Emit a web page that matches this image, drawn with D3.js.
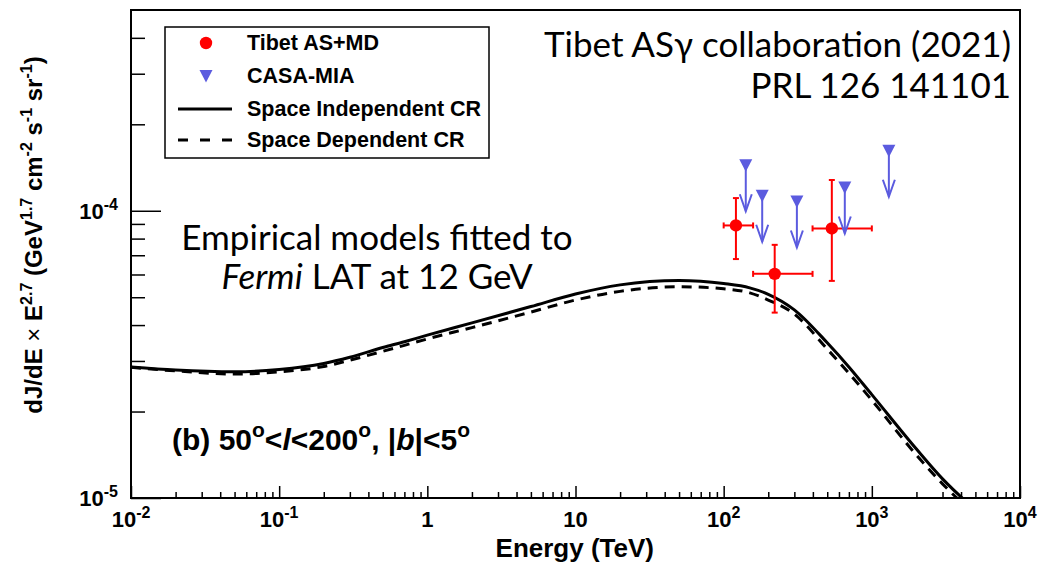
<!DOCTYPE html>
<html><head><meta charset="utf-8">
<script src="https://cdn.jsdelivr.net/npm/d3@7"></script>
<style>body{margin:0;background:#fff}</style>
</head><body>
<svg id="chart" width="1039" height="566"></svg>
<script>
// Model curves: E^2.7-weighted diffuse gamma-ray flux vs energy (TeV)
const energy = [0.01, 0.02, 0.05, 0.1, 0.2, 0.3, 0.5, 0.7, 1, 2, 5, 10, 20, 50, 100, 150, 200, 300, 500, 700, 1000, 2000, 3000, 4000, 5000];
const spaceIndependent = [2.86e-5, 2.79e-5, 2.75e-5, 2.80e-5, 2.94e-5, 3.09e-5, 3.34e-5, 3.50e-5, 3.69e-5, 4.07e-5, 4.64e-5, 5.13e-5, 5.52e-5, 5.72e-5, 5.58e-5, 5.39e-5, 5.12e-5, 4.52e-5, 3.47e-5, 2.86e-5, 2.29e-5, 1.48e-5, 1.166e-5, 1.01e-5, 0.92e-5];
const spaceDependent = [2.85e-5, 2.77e-5, 2.70e-5, 2.75e-5, 2.87e-5, 3.02e-5, 3.24e-5, 3.40e-5, 3.58e-5, 3.92e-5, 4.44e-5, 4.89e-5, 5.24e-5, 5.44e-5, 5.35e-5, 5.18e-5, 4.89e-5, 4.37e-5, 3.30e-5, 2.72e-5, 2.19e-5, 1.41e-5, 1.12e-5, 0.97e-5, 0.88e-5];

// Tibet AS+MD measurements
const tibetE = [121, 221, 537];
const tibetELo = [100, 158, 398];
const tibetEHi = [158, 398, 1000];
const tibetFlux = [8.89e-5, 6.03e-5, 8.68e-5];
const tibetFluxLo = [6.79e-5, 4.42e-5, 5.70e-5];
const tibetFluxHi = [1.107e-4, 7.61e-5, 1.28e-4];

// CASA-MIA upper limits
const casaE = [141, 182, 312, 657, 1303];
const casaLimit = [1.44e-4, 1.128e-4, 1.077e-4, 1.205e-4, 1.618e-4];

// Tick labels: [base, exponent]
const xTickValues = [1e-2, 1e-1, 1, 10, 100, 1000, 10000];
const xTickLabels = [["10", "-2"], ["10", "-1"], ["1", ""], ["10", ""], ["10", "2"], ["10", "3"], ["10", "4"]];
const yTickValues = [1e-5, 1e-4];
const yTickLabels = [["10", "-5"], ["10", "-4"]];

const legendLabels = ["Tibet AS+MD", "CASA-MIA", "Space Independent CR", "Space Dependent CR"];

const RED = "#ff0000", BLUE = "#5b5bdf";
const BOLD = "'Liberation Sans', Arial, Helvetica, sans-serif";
const HUMAN = "Lato, 'Open Sans', sans-serif";

const svg = d3.select("#chart");
const x = d3.scaleLog().domain([1e-2, 1e4]).range([131, 1020]);
const y = d3.scaleLog().domain([1e-5, 5e-4]).range([498, 10]);

svg.append("defs").append("clipPath").attr("id", "plotClip")
  .append("rect").attr("x", 131).attr("y", 10).attr("width", 889).attr("height", 488);

// minor tick positions
const xMinor = [];
for (let d = 1e-2; d < 1e4; d *= 10) for (let k = 2; k <= 9; k++) xMinor.push(k * d);
const yMinor = [];
for (let d = 1e-5; d < 5e-4; d *= 10) for (let k = 2; k <= 9; k++) if (k * d < 5e-4) yMinor.push(k * d);

// axes (ticks pointing inward)
const gx = svg.append("g").attr("transform", "translate(0,498)");
gx.call(d3.axisBottom(x).tickValues(xMinor).tickSize(-6).tickFormat(""));
gx.append("g").call(d3.axisBottom(x).tickValues(xTickValues).tickSize(-12).tickFormat(""));
const gy = svg.append("g").attr("transform", "translate(131,0)");
gy.call(d3.axisLeft(y).tickValues(yMinor).tickSize(-14).tickFormat(""));
gy.append("g").call(d3.axisLeft(y).tickValues(yTickValues).tickSize(-30).tickFormat(""));
svg.selectAll(".domain").remove();
svg.selectAll(".tick line").attr("stroke", "#000").attr("stroke-width", 1.5);

// frame
svg.append("rect").attr("x", 131).attr("y", 10).attr("width", 889).attr("height", 488)
  .attr("fill", "none").attr("stroke", "#000").attr("stroke-width", 2);

function supText(sel, base, exp, supSize, rise) {
  sel.append("tspan").text(base);
  if (exp) sel.append("tspan").attr("dy", -rise).attr("font-size", supSize).text(exp);
}

// x tick labels
xTickValues.forEach((v, i) => {
  const t = svg.append("text").attr("x", x(v)).attr("y", 527)
    .attr("text-anchor", "middle").attr("font-family", BOLD).attr("font-weight", "bold")
    .attr("font-size", 22);
  supText(t, xTickLabels[i][0], xTickLabels[i][1], 16, 9);
});
// y tick labels
yTickValues.forEach((v, i) => {
  const t = svg.append("text").attr("x", 118).attr("y", y(v) + 8)
    .attr("text-anchor", "end").attr("font-family", BOLD).attr("font-weight", "bold")
    .attr("font-size", 22);
  supText(t, yTickLabels[i][0], yTickLabels[i][1], 16, 9);
});

// axis titles
svg.append("text").attr("x", 654).attr("y", 557).attr("text-anchor", "end")
  .attr("font-family", BOLD).attr("font-weight", "bold").attr("font-size", 26).text("Energy (TeV)");

const yt = svg.append("text").attr("transform", "translate(42,235) rotate(-90)")
  .attr("text-anchor", "middle").attr("font-family", BOLD).attr("font-weight", "bold").attr("font-size", 24);
yt.append("tspan").text("dJ/dE ");
yt.append("tspan").attr("font-weight", "normal").text("×");
yt.append("tspan").text(" E");
const parts = [["2.7", " (GeV"], ["1.7", " cm"], ["-2", " s"], ["-1", " sr"], ["-1", ")"]];
parts.forEach(([sup, rest]) => {
  yt.append("tspan").attr("dy", -10).attr("font-size", 16).text(sup);
  yt.append("tspan").attr("dy", 10).text(rest);
});

// model curves
const plot = svg.append("g").attr("clip-path", "url(#plotClip)");
const line = (vals) => d3.line().curve(d3.curveMonotoneX)
  .x((d, i) => x(energy[i])).y(d => y(d))(vals);
plot.append("path").attr("d", line(spaceDependent)).attr("fill", "none")
  .attr("stroke", "#000").attr("stroke-width", 3).attr("stroke-dasharray", "10,7");
plot.append("path").attr("d", line(spaceIndependent)).attr("fill", "none")
  .attr("stroke", "#000").attr("stroke-width", 3);

// Tibet points with error bars
const cap = 3;
tibetE.forEach((e, i) => {
  const g = plot.append("g").attr("stroke", RED).attr("stroke-width", 2);
  const cx = x(e), cy = y(tibetFlux[i]);
  const x0 = x(tibetELo[i]), x1 = x(tibetEHi[i]);
  const y0 = y(tibetFluxLo[i]), y1 = y(tibetFluxHi[i]);
  g.append("line").attr("x1", x0).attr("x2", x1).attr("y1", cy).attr("y2", cy);
  g.append("line").attr("x1", x0).attr("x2", x0).attr("y1", cy - cap).attr("y2", cy + cap);
  g.append("line").attr("x1", x1).attr("x2", x1).attr("y1", cy - cap).attr("y2", cy + cap);
  g.append("line").attr("x1", cx).attr("x2", cx).attr("y1", y0).attr("y2", y1);
  g.append("line").attr("x1", cx - cap).attr("x2", cx + cap).attr("y1", y0).attr("y2", y0);
  g.append("line").attr("x1", cx - cap).attr("x2", cx + cap).attr("y1", y1).attr("y2", y1);
  plot.append("circle").attr("cx", cx).attr("cy", cy).attr("r", 6.2).attr("fill", RED);
});

// CASA-MIA upper limit markers with arrows
const tri = (cx, cy) => `M${cx - 6.5},${cy - 6}L${cx + 6.5},${cy - 6}L${cx},${cy + 6.5}Z`;
casaE.forEach((e, i) => {
  const cx = x(e), cy = y(casaLimit[i]);
  const tip = cy + 46;
  plot.append("line").attr("x1", cx).attr("x2", cx).attr("y1", cy).attr("y2", tip)
    .attr("stroke", BLUE).attr("stroke-width", 2);
  plot.append("polyline").attr("points", `${cx - 6},${tip - 17} ${cx},${tip} ${cx + 6},${tip - 17}`)
    .attr("fill", "none").attr("stroke", BLUE).attr("stroke-width", 2);
  plot.append("path").attr("d", tri(cx, cy)).attr("fill", BLUE);
});

// legend
const lg = svg.append("g");
lg.append("rect").attr("x", 165).attr("y", 27).attr("width", 324).attr("height", 131)
  .attr("fill", "#fff").attr("stroke", "#000").attr("stroke-width", 1.5);
const rows = [43, 76, 109, 140];
lg.append("circle").attr("cx", 206).attr("cy", rows[0]).attr("r", 6.2).attr("fill", RED);
lg.append("path").attr("d", tri(206, rows[1])).attr("fill", BLUE);
lg.append("line").attr("x1", 178).attr("x2", 232).attr("y1", rows[2]).attr("y2", rows[2])
  .attr("stroke", "#000").attr("stroke-width", 3);
lg.append("line").attr("x1", 178).attr("x2", 232).attr("y1", rows[3]).attr("y2", rows[3])
  .attr("stroke", "#000").attr("stroke-width", 3).attr("stroke-dasharray", "10,12");
legendLabels.forEach((s, i) => {
  lg.append("text").attr("x", 247).attr("y", rows[i] + 7).attr("font-family", BOLD)
    .attr("font-weight", "bold").attr("font-size", 21.5).text(s);
});

// annotations
const t1 = svg.append("text").attr("text-anchor", "end").attr("font-family", HUMAN).attr("font-size", 35);
t1.append("tspan").attr("x", 1011).attr("y", 57).text("Tibet ASγ collaboration (2021)");
t1.append("tspan").attr("x", 1011).attr("y", 98).text("PRL 126 141101");

const t2 = svg.append("text").attr("text-anchor", "middle").attr("font-family", HUMAN).attr("font-size", 35);
t2.append("tspan").attr("x", 377).attr("y", 250).text("Empirical models fitted to");
const l2 = t2.append("tspan").attr("x", 377).attr("y", 289);
l2.append("tspan").attr("font-style", "italic").text("Fermi");
l2.append("tspan").text(" LAT at 12 GeV");

const t3 = svg.append("text").attr("x", 172).attr("y", 450).attr("font-family", BOLD)
  .attr("font-weight", "bold").attr("font-size", 30);
t3.append("tspan").text("(b) 50");
t3.append("tspan").attr("dy", -13).attr("font-size", 21).text("o");
t3.append("tspan").attr("dy", 13).text("<");
t3.append("tspan").attr("font-style", "italic").text("l");
t3.append("tspan").text("<200");
t3.append("tspan").attr("dy", -13).attr("font-size", 21).text("o");
t3.append("tspan").attr("dy", 13).text(", |");
t3.append("tspan").attr("font-style", "italic").text("b");
t3.append("tspan").text("|<5");
t3.append("tspan").attr("dy", -13).attr("font-size", 21).text("o");
</script>
</body></html>
